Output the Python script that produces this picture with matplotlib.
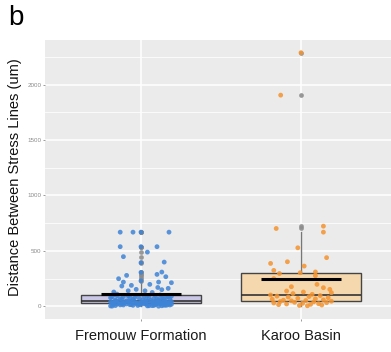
import numpy as np
import matplotlib
matplotlib.use("Agg")
import matplotlib.pyplot as plt

plt.rcParams['font.family'] = ['Liberation Sans', 'DejaVu Sans']

# groups
groups = ["Fremouw Formation", "Karoo Basin"]

# Fremouw Formation: distances (um) and horizontal jitter offsets
fre_vals = [669, 669, 669, 669, 538, 538, 538, 489, 448, 393, 399, 306, 279,
            249, 288, 309, 267, 230, 213, 219, 198, 219, 183, 162, 189, 153,
            129, 140, 170, 140, 150, 125, 110,
            2, 5, 8, 10, 12, 14, 15, 18, 20, 22, 24, 3, 6, 9, 11, 13, 16, 19,
            21, 23, 25, 4, 7, 1, 17, 12, 20, 8, 15, 10, 18, 22, 5,
            26, 28, 30, 31, 33, 35, 36, 38, 40, 42, 44, 46, 47, 27, 29, 32, 34,
            37, 39, 41, 43, 45, 48, 30, 35, 40, 26, 38, 44, 33, 42, 28, 46,
            50, 52, 55, 58, 60, 62, 65, 68, 70, 72, 75, 78, 80, 82, 85, 88, 90,
            92, 95, 98, 100, 102, 105, 54, 63, 71, 77, 86, 93, 57, 66, 84, 97]
fre_dx = [-0.13, -0.05, 0.0, 0.175, -0.13, 0.0, 0.10, 0.04, -0.11, 0.0, 0.145,
          0.0, -0.09, -0.14, 0.10, 0.13, 0.155, 0.0, 0.19, 0.11, 0.055, -0.11,
          -0.12, 0.17, -0.06, -0.03, -0.17, 0.025, 0.105, -0.08, 0.13, 0.07, -0.15,
          -0.18, 0.05, -0.02, 0.16, -0.11, 0.09, -0.07, 0.19, -0.15, 0.02, 0.12,
          -0.19, 0.07, -0.05, 0.14, -0.13, 0.00, 0.17, -0.09, 0.10, -0.03, 0.04,
          -0.16, 0.11, -0.01, 0.18, -0.12, 0.08, -0.06, 0.15, -0.17, 0.03, 0.13,
          0.06, -0.14, 0.17, -0.04, 0.10, -0.18, 0.01, 0.14, -0.10, 0.19, -0.07,
          0.04, -0.16, 0.12, -0.01, 0.08, -0.12, 0.16, -0.19, 0.03, -0.08, 0.11,
          -0.15, 0.18, -0.03, 0.07, -0.11, 0.15, -0.06, 0.00, 0.13, -0.17, 0.09,
          -0.09, 0.15, -0.16, 0.03, 0.11, -0.05, 0.18, -0.13, 0.08, -0.01, 0.13,
          -0.19, 0.05, -0.07, 0.16, -0.11, 0.02, 0.19, -0.15, 0.09, -0.03, 0.12,
          -0.17, 0.06, -0.12, 0.14, -0.04, 0.17, -0.08, 0.01, 0.10, -0.18, 0.04]

# Karoo Basin
kar_vals = [2288, 1905, 723, 702, 669, 528, 439, 402, 387, 363, 324, 310, 303,
            296, 276, 250, 198, 177, 168, 153, 138, 129, 123, 115, 108, 102,
            97, 92, 88, 84, 78, 72, 68, 63, 58, 55, 52, 49, 46,
            43, 40, 36, 33, 30, 27, 24, 21, 18, 15, 12, 8, 5]
kar_dx = [0.0, -0.127, 0.14, -0.155, 0.14, -0.02, 0.16, -0.085, -0.19, 0.02,
          -0.17, 0.09, -0.005,
          -0.135, 0.09, -0.17, 0.10, -0.06, 0.14, 0.18, -0.09, 0.015, 0.19,
          -0.05, 0.07, -0.19,
          0.12, -0.15, 0.05, -0.08, 0.17, -0.02, 0.09, -0.18, 0.14, -0.11, 0.03,
          -0.06, 0.19,
          -0.13, 0.08, -0.04, 0.16, -0.17, 0.01, 0.11, -0.09, 0.06, -0.14, 0.13,
          -0.01, 0.04]

point_cols = ['#3E84D7', '#F5932F']
box_cols = ['#C9C7E5', '#F5D8AE']

fig = plt.figure(figsize=(3.91, 3.52), dpi=100)
ax = fig.add_axes([45/391, 33/352, 352/391, 279/352])
ax.set_facecolor('#EBEBEB')

data = [np.array(fre_vals), np.array(kar_vals)]
offs = [np.array(fre_dx), np.array(kar_dx)]
pos = [1, 2]

bp = ax.boxplot(data, positions=pos, widths=0.75, patch_artist=True, whis=1.5,
                medianprops=dict(color='#333333', lw=1.2),
                whiskerprops=dict(color='#777777', lw=1.0),
                capprops=dict(visible=False),
                boxprops=dict(edgecolor='#444444', lw=1.0),
                flierprops=dict(marker='o', markersize=3.4, markerfacecolor='#8C8C8C',
                                markeredgecolor='none', alpha=0.9),
                zorder=2)
for patch, c in zip(bp['boxes'], box_cols):
    patch.set_facecolor(c)

for p, vals, dx, c in zip(pos, data, offs, point_cols):
    ax.scatter(p + dx, vals, s=12, color=c, alpha=0.85, edgecolors='none', zorder=3)
    # mean bar
    ax.hlines(np.mean(vals), p - 0.25, p + 0.25, color='black', lw=2.2, zorder=4)

ymax = max(max(fre_vals), max(kar_vals))
ymin = 0
span = ymax - ymin
ax.set_ylim(ymin - 0.05 * span, ymax + 0.05 * span)
ax.set_xlim(0.4, 2.6)

ax.set_yticks([0, 500, 1000, 1500, 2000])
ax.set_yticks(np.arange(250, 2500, 500), minor=True)
ax.set_xticks(pos)
ax.set_xticklabels(groups)
ax.grid(which='major', color='white', lw=1.1, zorder=0)
ax.grid(which='minor', axis='y', color='white', lw=0.55, zorder=0)
ax.set_axisbelow(True)
for s in ax.spines.values():
    s.set_visible(False)

ax.tick_params(axis='y', which='major', labelsize=4.5, labelcolor='#8A8A8A',
               color='#8A8A8A', length=1.5, width=0.6, pad=1)
ax.tick_params(axis='y', which='minor', length=0)
ax.tick_params(axis='x', labelsize=10.5, labelcolor='#1A1A1A', color='#8A8A8A',
               length=1.5, width=0.6, pad=5.5)

fig.text(15/391, 1 - 177/352, 'Distance Between Stress Lines (um)', rotation=90,
         ha='center', va='center', fontsize=10.5, color='#111111')
fig.text(8/391, 1 - 25/352, 'b', fontsize=20, va='baseline', ha='left')

fig.savefig('out.png', dpi=100)
